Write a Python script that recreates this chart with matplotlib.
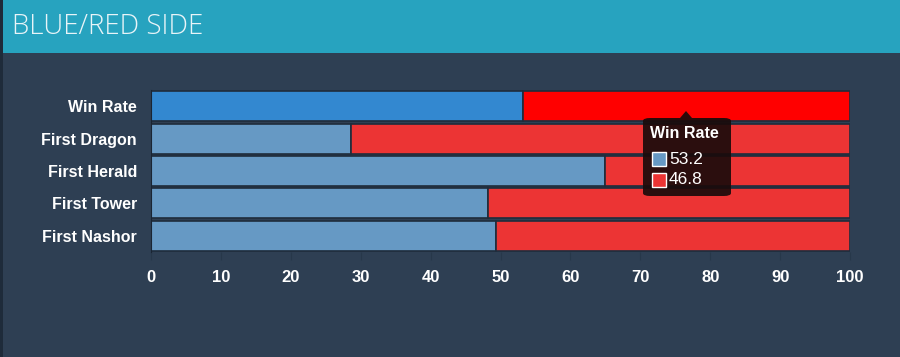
import matplotlib.pyplot as plt
from matplotlib.patches import FancyBboxPatch, Polygon, Rectangle

categories = ['Win Rate', 'First Dragon', 'First Herald', 'First Tower', 'First Nashor']
blue_side = [53.2, 28.6, 65.0, 48.2, 49.4]
red_side = [46.8, 71.4, 35.0, 51.8, 50.6]
ticks = [0, 10, 20, 30, 40, 50, 60, 70, 80, 90, 100]

bg = '#2e3f53'
fig = plt.figure(figsize=(9, 3.57), dpi=100)
fig.patch.set_facecolor(bg)

# header band
fig.patches.append(Rectangle((0, 1 - 53 / 357), 1, 53 / 357, transform=fig.transFigure,
                             facecolor='#27a3bf', edgecolor='none', zorder=0))
fig.patches.append(Rectangle((0, 0), 3 / 900, 1, transform=fig.transFigure,
                             facecolor='#1e2b3a', edgecolor='none', zorder=1))
fig.text(12 / 900, 1 - 27 / 357, 'BLUE/RED SIDE', color='#e8f4f8', fontsize=20,
         family='Open Sans', fontweight='light', va='center', ha='left')

ax = fig.add_axes([151 / 900, 1 - 252 / 357, 699 / 900, 162 / 357])
ax.set_facecolor(bg)

y = list(range(len(categories)))
blue_cols = ['#3388d0'] + ['#6699c4'] * 4
red_cols = ['#ff0000'] + ['#ec3434'] * 4
ax.barh(y, blue_side, height=0.92, color=blue_cols, edgecolor='#1f2c3c', linewidth=1.2)
ax.barh(y, red_side, left=blue_side, height=0.92, color=red_cols, edgecolor='#1f2c3c', linewidth=1.2)

ax.set_xlim(0, 100)
ax.set_ylim(len(categories) - 0.5, -0.5)
ax.set_yticks(y)
ax.set_yticklabels(categories)
ax.set_xticks(ticks)
for s in ['top', 'right']:
    ax.spines[s].set_visible(False)
ax.spines['left'].set_color('#1a2533')
ax.spines['bottom'].set_visible(False)
ax.tick_params(axis='y', length=0, pad=10, labelcolor='white', labelsize=11.5)
ax.tick_params(axis='x', length=6, color='#27384a', pad=7, labelcolor='white', labelsize=12)
for lbl in ax.get_xticklabels() + ax.get_yticklabels():
    lbl.set_family('Liberation Sans')
    lbl.set_fontweight('bold')

# tooltip for hovered Win Rate bar
tx0, ty0, tw, th = 643 / 900, 1 - 196 / 357, 88 / 900, 78 / 357
fig.patches.append(FancyBboxPatch((tx0, ty0), tw, th, boxstyle='round,pad=0,rounding_size=0.008',
                                  transform=fig.transFigure, facecolor='#1a0b0b',
                                  edgecolor='none', alpha=0.92, zorder=5))
fig.patches.append(Polygon([[680 / 900, 1 - 118 / 357], [686 / 900, 1 - 111 / 357],
                            [692 / 900, 1 - 118 / 357]], transform=fig.transFigure,
                           facecolor='#1a0b0b', edgecolor='none', alpha=0.92, zorder=5))
fig.text(650 / 900, 1 - 133 / 357, categories[0], color='white', fontsize=11.5,
         family='Liberation Sans', fontweight='bold', va='center', zorder=6)
for i, (val, col) in enumerate([(blue_side[0], '#6699c4'), (red_side[0], '#ec3434')]):
    yy = 1 - (159 + i * 21) / 357
    fig.patches.append(Rectangle((652 / 900, yy - 7 / 357), 14 / 900, 14 / 357,
                                 transform=fig.transFigure, facecolor=col,
                                 edgecolor='white', linewidth=1, zorder=6))
    fig.text(669 / 900, yy, f'{val:.1f}', color='white', fontsize=12.5,
             family='Liberation Sans', va='center', zorder=6)

fig.savefig('out.png', dpi=100, facecolor=bg)
